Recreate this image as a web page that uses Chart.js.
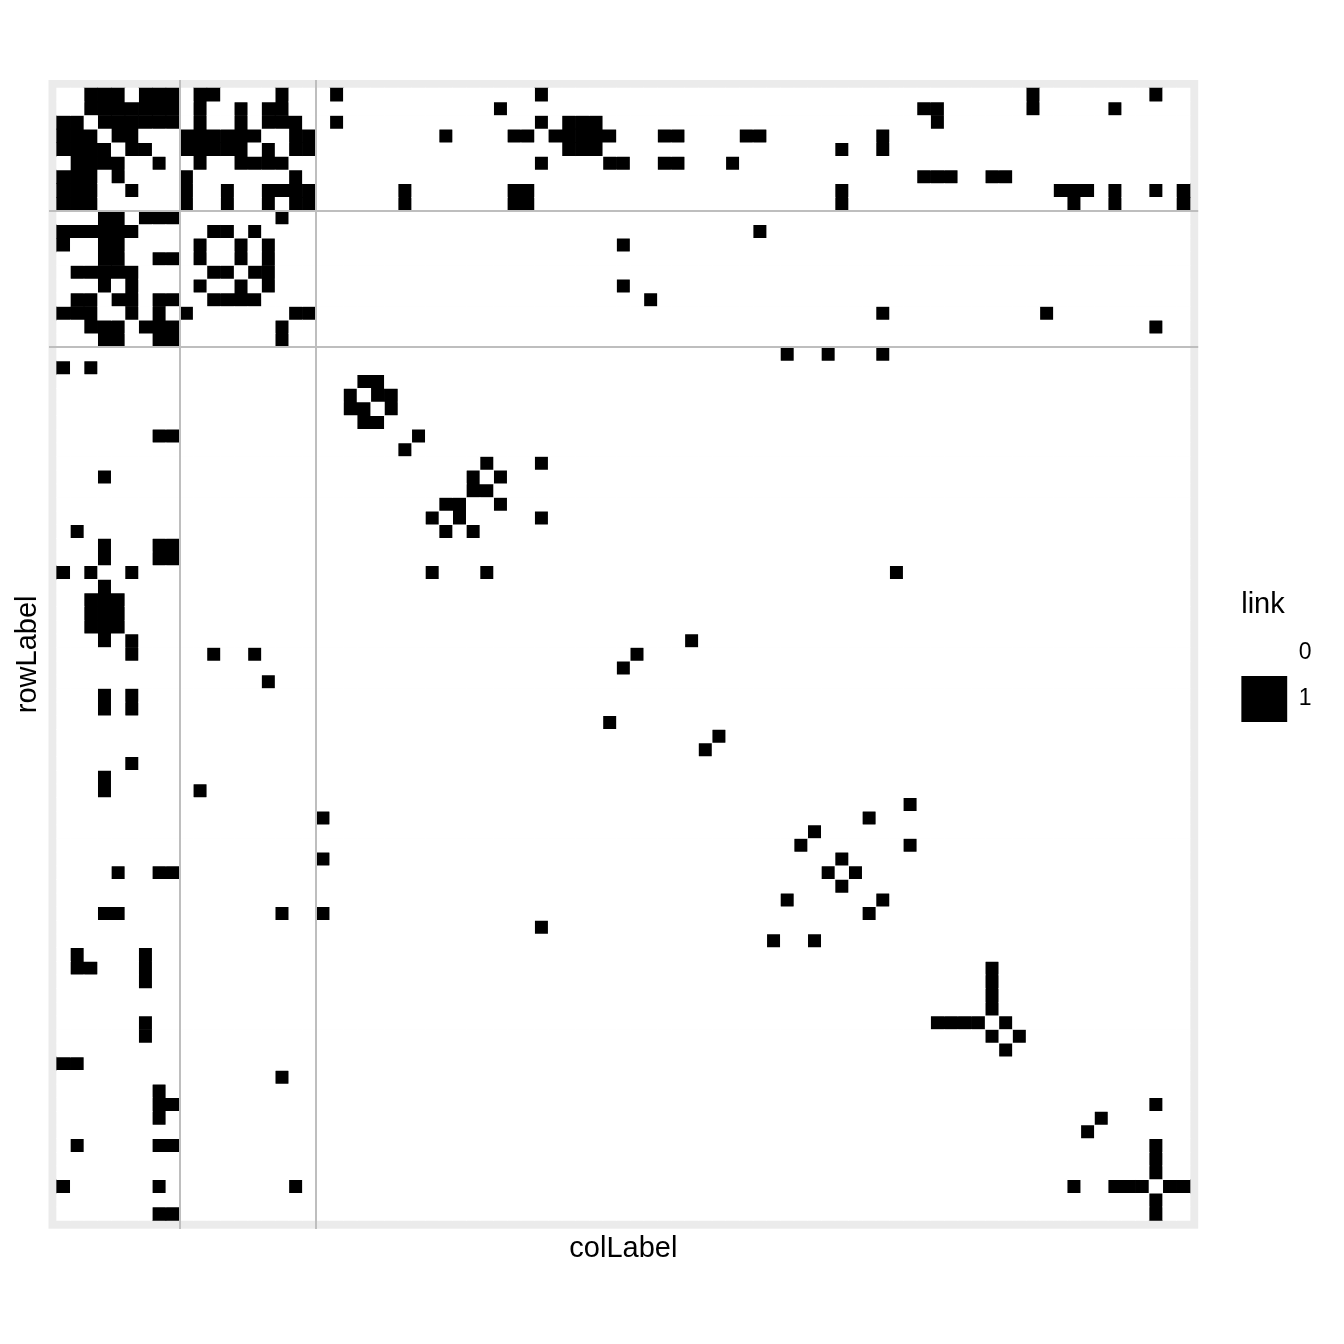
<!DOCTYPE html>
<html>
<head>
<meta charset="utf-8">
<title>link matrix</title>
<script src="https://cdn.jsdelivr.net/npm/chart.js@4.4.1/dist/chart.umd.min.js"></script>
<style>
  html, body { margin: 0; padding: 0; background: #ffffff; }
  #wrap { width: 1344px; height: 1344px; }
  canvas { display: block; }
</style>
</head>
<body>
<div id="wrap"><canvas id="chart" width="1344" height="1344"></canvas></div>
<script>
// ---- data ----
// sizes of the three node blocks (rows and columns share the same order)
const clusterSizes = [9, 10, 64];
// legend values
const linkValues = ['0', '1'];
// column indices (0-based) where link = 1, one list per row
const linksBlockA = [
  [2,3,4,6,7,8,10,11,16,20,35,71,80],
  [2,3,4,5,6,7,8,10,13,15,16,32,63,64,71,77],
  [0,1,3,4,5,6,7,8,10,13,15,16,17,20,35,37,38,39,64],
  [0,1,2,4,5,9,10,11,12,13,14,17,18,28,33,34,36,37,38,39,40,44,45,50,51,60],
  [0,1,2,3,5,6,9,10,11,12,13,15,17,18,37,38,39,57,60],
  [1,2,3,4,7,10,13,14,15,16,35,40,41,44,45,49],
  [0,1,2,4,9,17,63,64,65,68,69],
  [0,1,2,5,9,12,15,16,17,18,25,33,34,57,73,74,75,77,80,82],
  [0,1,2,9,12,15,17,18,25,33,34,57,74,77,82]
];
const linksBlockB = [
  [3,4,6,7,8,16],
  [0,1,2,3,4,5,11,12,14,51],
  [0,3,4,10,13,15,41],
  [3,4,7,8,10,13,15],
  [1,2,3,4,5,11,12,14,15],
  [3,5,10,13,15,41],
  [1,2,4,5,7,8,11,12,13,14,43],
  [0,1,2,5,7,9,17,18,60,72],
  [2,3,4,6,7,8,16,80],
  [3,4,7,8,16]
];
const linksBlockC = [
  [53,56,60],
  [0,2],
  [22,23],
  [21,23,24],
  [21,22,24],
  [22,23],
  [7,8,26],
  [25],
  [31,35],
  [3,30,32],
  [30,31],
  [28,29,32],
  [27,29,35],
  [1,28,30],
  [3,7,8],
  [3,7,8],
  [0,2,5,27,31,61],
  [3],
  [2,3,4],
  [2,3,4],
  [2,3,4],
  [3,5,46],
  [5,11,14,42],
  [41],
  [15],
  [3,5],
  [3,5],
  [40],
  [48],
  [47],
  [5],
  [3],
  [3,10],
  [62],
  [19,59],
  [55],
  [54,62],
  [19,57],
  [4,7,8,56,58],
  [57],
  [53,60],
  [3,4,16,19,59],
  [35],
  [52,55],
  [1,6],
  [1,2,6,68],
  [6,68],
  [68],
  [68],
  [6,64,65,66,67,69],
  [6,68,70],
  [69],
  [0,1],
  [16],
  [7],
  [7,8,80],
  [7,76],
  [75],
  [1,7,8,80],
  [80],
  [80],
  [0,7,17,74,77,78,79,81,82],
  [80],
  [7,8,80]
];

// ---- build tiles ----
const linkRows = linksBlockA.concat(linksBlockB, linksBlockC);
const nNodes = linkRows.length;
const zeroCells = [];
const oneCells = [];
linkRows.forEach((cols, r) => {
  for (let c = 0; c < nNodes; c++) {
    const cell = { x: c, y: [r - 0.5, r + 0.5] };
    if (cols.indexOf(c) >= 0) oneCells.push(cell); else zeroCells.push(cell);
  }
});
// block separators between clusters
const boundaries = [];
let acc = 0;
for (let i = 0; i < clusterSizes.length - 1; i++) {
  acc += clusterSizes[i];
  boundaries.push(acc - 0.5);
}
const expand = 0.6;
const axisMin = -0.5 - expand;
const axisMax = nNodes - 0.5 + expand;

const FONT = '"Liberation Sans", Arial, Helvetica, sans-serif';
Chart.defaults.font.family = FONT;
Chart.defaults.color = '#000000';

const panelBackground = {
  id: 'panelBackground',
  beforeDraw(chart) {
    const { ctx, chartArea: a } = chart;
    ctx.save();
    ctx.fillStyle = '#FFFFFF';
    ctx.fillRect(0, 0, chart.width, chart.height);
    ctx.fillStyle = '#EBEBEB';
    ctx.fillRect(a.left, a.top, a.right - a.left, a.bottom - a.top);
    ctx.restore();
  }
};

const separatorTicks = (scale) => { scale.ticks = boundaries.map(v => ({ value: v })); };

new Chart(document.getElementById('chart').getContext('2d'), {
  type: 'bar',
  data: {
    datasets: [
      { label: linkValues[0], data: zeroCells, backgroundColor: '#FFFFFF', borderWidth: 0,
        grouped: false, barPercentage: 1, categoryPercentage: 1, xAxisID: 'x', yAxisID: 'y' },
      { label: linkValues[1], data: oneCells, backgroundColor: '#000000', borderWidth: 0,
        grouped: false, barPercentage: 1, categoryPercentage: 1, xAxisID: 'x', yAxisID: 'y' }
    ]
  },
  options: {
    responsive: false,
    animation: false,
    devicePixelRatio: 1,
    layout: { padding: { left: 0, right: 22.8, top: 80, bottom: 0 } },
    scales: {
      x: {
        type: 'linear', position: 'bottom', min: axisMin, max: axisMax, offset: false,
        afterBuildTicks: separatorTicks,
        ticks: { display: false },
        grid: { display: true, drawTicks: false, offset: false, color: '#BEBEBE', lineWidth: 2, z: 1 },
        border: { display: false },
        title: { display: true, text: 'colLabel', color: '#000000',
                 font: { size: 29, family: FONT }, padding: { top: 2.9, bottom: 77.6 } }
      },
      y: {
        type: 'linear', position: 'left', min: axisMin, max: axisMax, reverse: true, offset: false,
        afterBuildTicks: separatorTicks,
        ticks: { display: false },
        grid: { display: true, drawTicks: false, offset: false, color: '#BEBEBE', lineWidth: 2, z: 1 },
        border: { display: false },
        title: { display: true, text: 'rowLabel', color: '#000000',
                 font: { size: 29, family: FONT }, padding: { top: 10.6, bottom: 3.1 } }
      },
      yr: {
        type: 'linear', position: 'right', display: true, min: 0, max: 1,
        afterFit: (s) => { s.width = 43; },
        ticks: { display: false },
        grid: { display: false, drawTicks: false },
        border: { display: false }
      }
    },
    plugins: {
      tooltip: { enabled: false },
      legend: {
        display: true,
        position: 'right',
        align: 'center',
        fullSize: false,
        maxWidth: 80,
        title: { display: true, text: 'link', position: 'start', color: '#000000',
                 font: { size: 29, family: FONT }, padding: { top: 4, bottom: 4.5 } },
        labels: { boxWidth: 46, boxHeight: 46, padding: 0, color: '#000000',
                  font: { size: 23, family: FONT } }
      }
    }
  },
  plugins: [panelBackground]
});
</script>
</body>
</html>
